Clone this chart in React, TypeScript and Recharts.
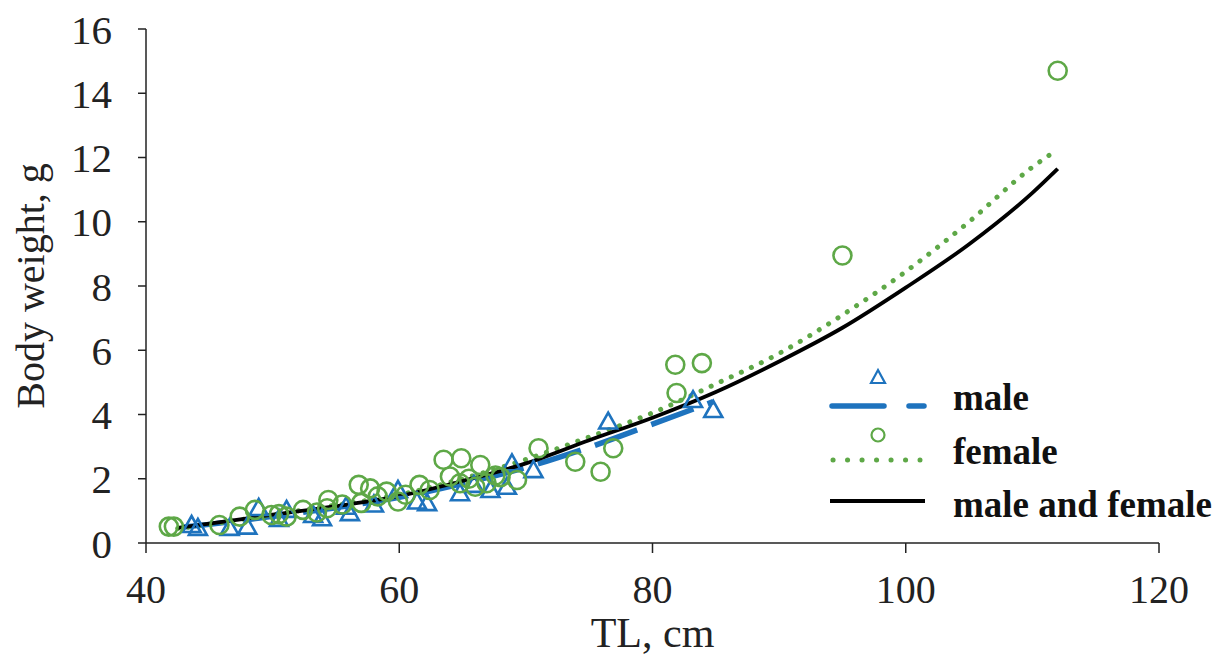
import {
  ComposedChart,
  Scatter,
  Line,
  XAxis,
  YAxis,
  Label,
} from "recharts";

const BLUE = "#1e73be";
const GREEN = "#5ea847";
const FONT = "'Liberation Serif', 'Times New Roman', serif";

// observed fish, male
const maleTL = [43.6, 44.1, 46.6, 48.0, 48.9, 50.5, 51.1, 53.2, 53.9, 55.8, 56.1, 58.0, 59.9, 61.4, 62.2, 64.8, 65.9, 67.2, 68.5, 68.9, 70.6, 76.5, 83.2, 84.8];
const maleBW = [0.56, 0.47, 0.47, 0.51, 1.09, 0.75, 1.03, 0.87, 0.77, 1.13, 0.93, 1.2, 1.65, 1.29, 1.24, 1.55, 1.81, 1.65, 1.75, 2.48, 2.27, 3.78, 4.45, 4.14];

// observed fish, female
const femaleTL = [41.8, 42.2, 45.8, 47.4, 48.6, 49.9, 50.5, 51.1, 52.4, 53.5, 54.3, 54.4, 55.5, 56.8, 57.0, 57.7, 58.3, 59.0, 59.9, 60.5, 61.6, 62.4, 63.5, 64.0, 64.8, 64.9, 65.5, 66.0, 66.4, 66.9, 67.6, 68.0, 69.3, 71.0, 73.9, 75.9, 76.9, 81.8, 81.9, 83.9, 95.0, 112.0];
const femaleBW = [0.51, 0.51, 0.56, 0.82, 1.03, 0.87, 0.9, 0.82, 1.03, 0.95, 1.08, 1.34, 1.2, 1.81, 1.25, 1.7, 1.45, 1.6, 1.29, 1.5, 1.81, 1.65, 2.59, 2.07, 1.86, 2.64, 2.0, 1.75, 2.43, 1.86, 2.1, 2.05, 1.96, 2.95, 2.53, 2.22, 2.95, 5.55, 4.67, 5.6, 8.95, 14.7];

// fitted curves
const maleFitTL = [43, 45, 50, 55, 60, 65, 70, 75, 80, 84.8];
const maleFitBW = [0.5, 0.58, 0.83, 1.1, 1.42, 1.85, 2.35, 2.98, 3.7, 4.4];
const fitTL = [42.5, 45, 50, 55, 60, 65, 70, 75, 80, 85, 90, 95, 100, 105, 110, 112];
const femaleFitBW = [0.45, 0.58, 0.88, 1.18, 1.5, 2.0, 2.6, 3.3, 4.05, 4.95, 5.9, 7.1, 8.45, 10.0, 11.7, 12.25];
const allFitBW = [0.47, 0.6, 0.88, 1.15, 1.46, 1.93, 2.48, 3.2, 3.9, 4.7, 5.65, 6.7, 7.95, 9.3, 10.9, 11.65];

const xTicks = [40, 60, 80, 100, 120];
const yTicks = [0, 2, 4, 6, 8, 10, 12, 14, 16];

const zip = (xs: number[], ys: number[]) => xs.map((x, i) => ({ x, y: ys[i] }));

const maleData = zip(maleTL, maleBW);
const femaleData = zip(femaleTL, femaleBW);
const maleFit = zip(maleFitTL, maleFitBW);
const femaleFit = zip(fitTL, femaleFitBW);
const allFit = zip(fitTL, allFitBW);

function Triangle(props: any) {
  const { cx, cy } = props;
  if (cx == null || cy == null) return null;
  return (
    <path
      d={`M${cx},${cy - 9} L${cx + 9},${cy + 7} L${cx - 9},${cy + 7} Z`}
      fill="none"
      stroke={BLUE}
      strokeWidth={2.6}
    />
  );
}

function Ring(props: any) {
  const { cx, cy } = props;
  if (cx == null || cy == null) return null;
  return <circle cx={cx} cy={cy} r={9} fill="none" stroke={GREEN} strokeWidth={2.6} />;
}

// legend drawn as an overlay, like the original figure's key box
function KeyBox() {
  const text = { fontFamily: FONT, fontWeight: 700, fontSize: 37, fill: "#111" };
  return (
    <svg width={405} height={170} style={{ position: "absolute", left: 820, top: 360 }}>
      <path d="M58,10 L65,23 L51,23 Z" fill="none" stroke={BLUE} strokeWidth={2.2} />
      <line x1={12} y1={46} x2={64} y2={46} stroke={BLUE} strokeWidth={5.5} strokeLinecap="round" />
      <line x1={89} y1={46} x2={104} y2={46} stroke={BLUE} strokeWidth={5.5} strokeLinecap="round" />
      <text x={133} y={50} {...text}>male</text>
      <circle cx={58} cy={75} r={6.5} fill="none" stroke={GREEN} strokeWidth={2.2} />
      <line x1={13} y1={100} x2={100} y2={100} stroke={GREEN} strokeWidth={5} strokeLinecap="round" strokeDasharray="0.1 14.4" />
      <text x={133} y={104} {...text}>female</text>
      <line x1={10} y1={141} x2={105} y2={141} stroke="#000" strokeWidth={4} />
      <text x={133} y={157} {...text}>male and female</text>
    </svg>
  );
}

export default function App() {
  return (
    <div style={{ position: "absolute", left: 0, top: 0, width: 1225, height: 659, background: "#fff" }}>
      <ComposedChart
        width={1225}
        height={659}
        margin={{ top: 29, right: 66, bottom: 0, left: 0 }}
      >
        <XAxis
          type="number"
          dataKey="x"
          domain={[40, 120]}
          ticks={xTicks}
          interval={0}
          allowDataOverflow
          height={116}
          stroke="#222"
          strokeWidth={1.5}
          tickSize={10}
          tickMargin={22}
          tick={{ fontFamily: FONT, fontSize: 40, fill: "#222" }}
        >
          <Label
            value="TL, cm"
            position="insideBottom"
            offset={12}
            style={{ fontFamily: FONT, fontSize: 42, fill: "#222" }}
          />
        </XAxis>
        <YAxis
          type="number"
          dataKey="y"
          domain={[0, 16]}
          ticks={yTicks}
          interval={0}
          width={146}
          stroke="#222"
          strokeWidth={1.5}
          tickSize={8}
          tickMargin={26}
          tick={{ fontFamily: FONT, fontSize: 41, fill: "#222" }}
        >
          <Label
            value="Body weight, g"
            angle={-90}
            position="insideLeft"
            offset={30}
            style={{ fontFamily: FONT, fontSize: 40, fill: "#222", textAnchor: "middle" }}
          />
        </YAxis>
        <Scatter name="male" data={maleData} shape={<Triangle />} isAnimationActive={false} />
        <Scatter name="female" data={femaleData} shape={<Ring />} isAnimationActive={false} />
        <Line
          data={maleFit}
          dataKey="y"
          type="monotone"
          dot={false}
          stroke={BLUE}
          strokeWidth={5.5}
          strokeDasharray="45 15"
          isAnimationActive={false}
        />
        <Line
          data={femaleFit}
          dataKey="y"
          type="monotone"
          dot={false}
          stroke={GREEN}
          strokeWidth={5}
          strokeLinecap="round"
          strokeDasharray="0.1 11"
          isAnimationActive={false}
        />
        <Line
          data={allFit}
          dataKey="y"
          type="monotone"
          dot={false}
          stroke="#000"
          strokeWidth={3.8}
          isAnimationActive={false}
        />
      </ComposedChart>
      <KeyBox />
    </div>
  );
}
